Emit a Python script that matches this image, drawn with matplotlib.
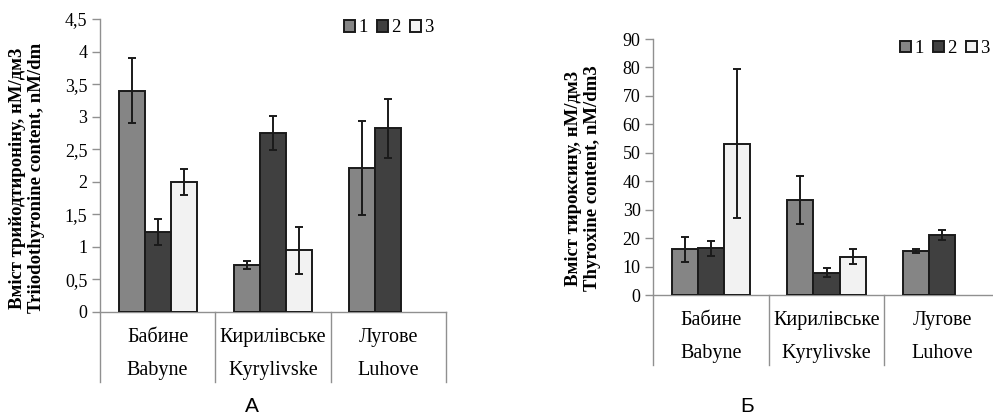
import matplotlib
matplotlib.use("Agg")
import matplotlib.pyplot as plt
import matplotlib.transforms as mtransforms
import numpy as np

plt.rcParams['font.family'] = ['Liberation Serif', 'DejaVu Serif']

# -----------------------------
# Data
sites_ua = ['Бабине', 'Кирилівське', 'Лугове']
sites_en = ['Babyne', 'Kyrylivske', 'Luhove']
series = ['1', '2', '3']

# Panel A: triiodothyronine
t3_vals = [[3.40, 0.72, 2.21],
           [1.23, 2.75, 2.82],
           [2.00, 0.95, np.nan]]
t3_err = [[0.50, 0.06, 0.72],
          [0.20, 0.26, 0.45],
          [0.20, 0.36, np.nan]]

# Panel B: thyroxine
t4_vals = [[16.0, 33.5, 15.5],
           [16.4, 7.8, 21.1],
           [53.2, 13.5, np.nan]]
t4_err = [[4.4, 8.5, 0.8],
          [2.7, 1.6, 1.9],
          [26.1, 2.6, np.nan]]

colors = ['#858585', '#404040', '#f2f2f2']

W, H = 993, 417
fig = plt.figure(figsize=(W / 100, H / 100), dpi=100)


def px_axes(x0, y0, x1, y1):
    # pixel box (top-left origin) -> figure axes
    return fig.add_axes([x0 / W, 1 - y1 / H, (x1 - x0) / W, (y1 - y0) / H])


def draw_panel(ax, vals, errs, ymax, ystep, fmt, ext, leg_anchor):
    x = np.arange(len(sites_ua))
    bw = 0.225
    for i in range(3):
        ax.bar(x + (i - 1) * bw, vals[i], bw, yerr=errs[i], color=colors[i],
               edgecolor='#1a1a1a', linewidth=1.4, label=series[i],
               error_kw=dict(ecolor='#1a1a1a', elinewidth=1.4, capsize=3, capthick=1.4),
               zorder=3)
    ax.set_xlim(-0.5, len(sites_ua) - 0.5)
    ax.set_ylim(0, ymax)
    ticks = np.arange(0, ymax + ystep / 2, ystep)
    ax.set_yticks(ticks)
    ax.set_yticklabels([fmt(t) for t in ticks])
    ax.set_xticks([])
    for s in ['top', 'right', 'left']:
        ax.spines[s].set_visible(False)
    ax.spines['bottom'].set_color('#909090')
    ax.spines['bottom'].set_linewidth(1)
    ax.tick_params(axis='y', length=6, width=1, color='#909090', labelsize=13, pad=3)

    # Excel-like category separators
    trans = mtransforms.blended_transform_factory(ax.transData, ax.transAxes)
    for b in np.arange(-0.5, len(sites_ua), 1.0):
        top = 1 if b == -0.5 else 0
        ax.plot([b, b], [top, -ext], transform=trans, color='#909090', lw=1,
                clip_on=False, zorder=1)
    for i in range(len(sites_ua)):
        ax.text(x[i], -ext * 0.36, sites_ua[i], transform=trans, ha='center',
                va='center', fontsize=14.5)
        ax.text(x[i], -ext * 0.84, sites_en[i], transform=trans, ha='center',
                va='center', fontsize=14.5)

    ax.legend(ncol=3, frameon=False, loc='upper right', bbox_to_anchor=leg_anchor,
              handlelength=0.6, handleheight=0.6, handletextpad=0.15,
              columnspacing=0.5, fontsize=13.5, borderaxespad=0)


fmt_a = lambda t: ('%g' % t).replace('.', ',')
fmt_b = lambda t: '%d' % t

axA = px_axes(100, 19, 446, 312)
draw_panel(axA, t3_vals, t3_err, 4.5, 0.5, fmt_a, 70 / 293, (0.985, 1.025))

axB = px_axes(653, 39, 1000, 295)
draw_panel(axB, t4_vals, t4_err, 90, 10, fmt_b, 70 / 256, (0.99, 1.025))

fig.text(27 / W, 1 - 178 / H,
         'Вміст трийодтироніну, нМ/дм3\nTriiodothyronine content, nM/dm',
         rotation=90, ha='center', va='center', fontsize=13.5, fontweight='bold',
         multialignment='center', linespacing=1.2)
fig.text(583 / W, 1 - 178 / H,
         'Вміст тироксину, нМ/дм3\nThyroxine content, nM/dm3',
         rotation=90, ha='center', va='center', fontsize=13.5, fontweight='bold',
         multialignment='center', linespacing=1.2)

fig.text(252 / W, 1 - 406 / H, 'А', ha='center', va='center', fontsize=15,
         family=['Liberation Sans', 'DejaVu Sans'])
fig.text(747 / W, 1 - 406 / H, 'Б', ha='center', va='center', fontsize=15,
         family=['Liberation Sans', 'DejaVu Sans'])

fig.savefig('out.png', dpi=100)
